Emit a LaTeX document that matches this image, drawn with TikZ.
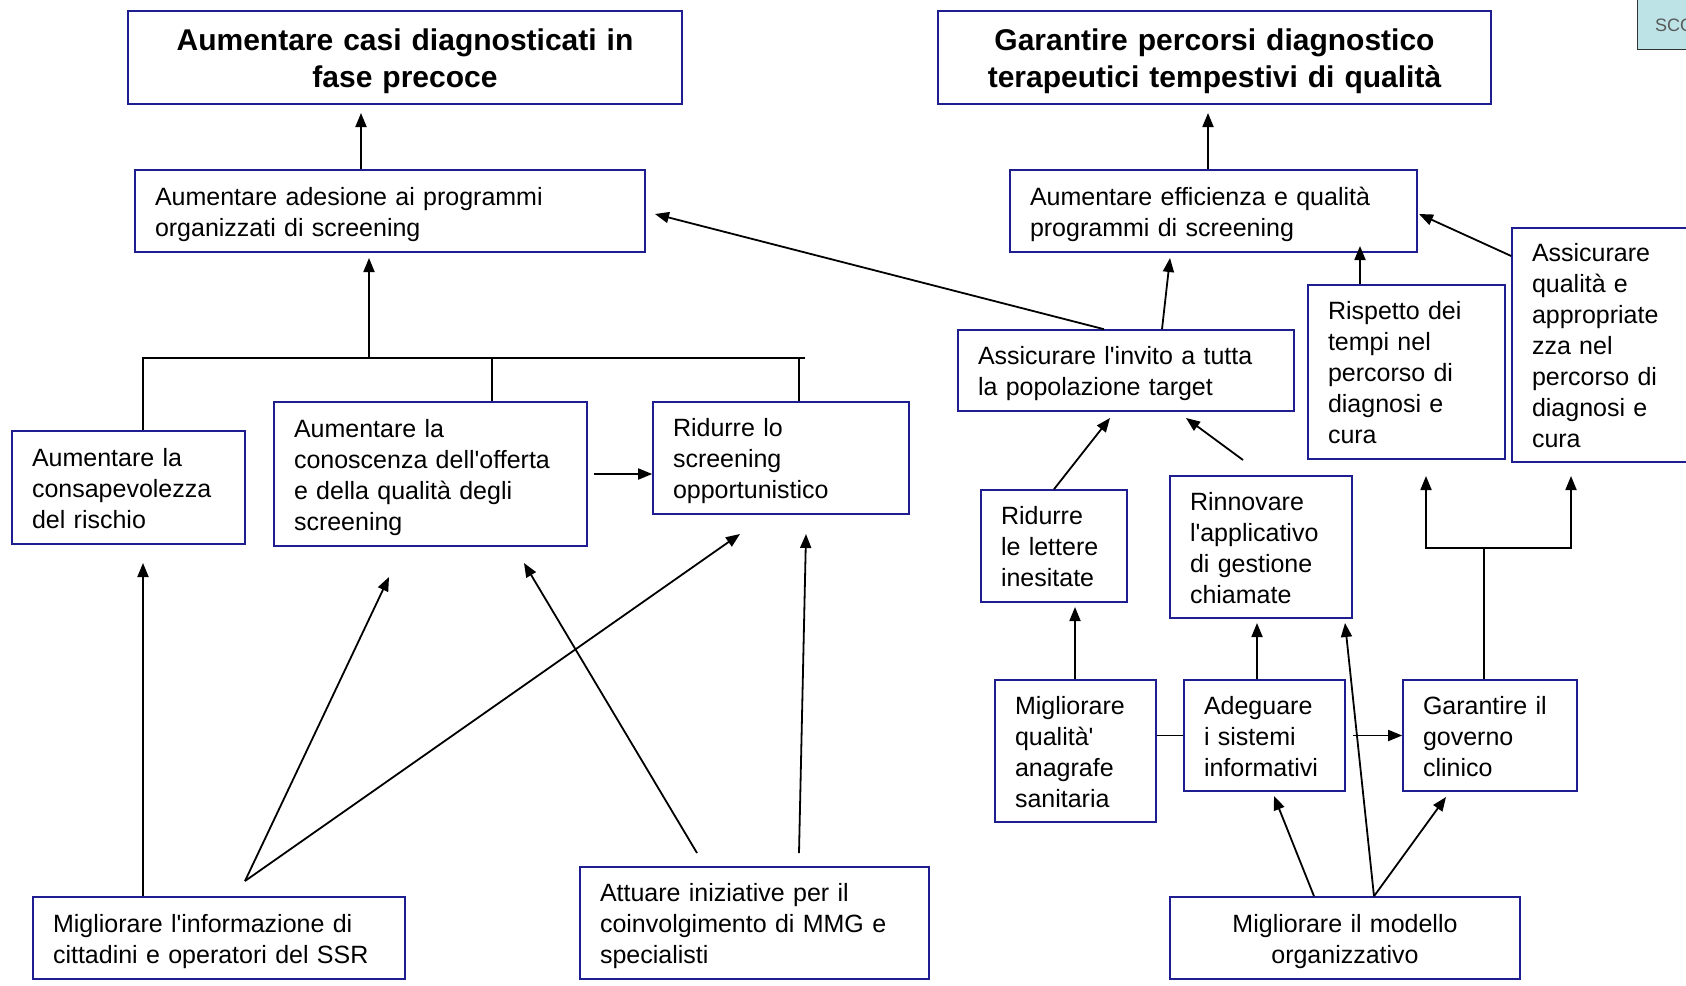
\documentclass[tikz,border=0pt]{standalone}
\usepackage{fontspec}
\setmainfont{Liberation Sans}
\usetikzlibrary{arrows.meta}
\definecolor{boxblue}{HTML}{1E1E90}
\definecolor{scofill}{HTML}{BDE3E6}
\begin{document}
\begin{tikzpicture}[x=1pt,y=-1pt,
  box/.style={draw=boxblue, line width=1.6pt, inner xsep=20pt, inner ysep=0pt,
    font=\fontsize{25}{31}\selectfont, align=left,
    execute at begin node={\rule{0pt}{26pt}},
    execute at end node={\rule[-7pt]{0pt}{7pt}}},
  titlebox/.style={draw=boxblue, line width=1.6pt, inner xsep=10pt, inner ysep=0pt,
    font=\fontsize{30}{37.6}\selectfont\bfseries, align=center,
    execute at begin node={\rule{0pt}{30.3pt}},
    execute at end node={\rule[-7pt]{0pt}{7pt}}},
  conn/.style={line width=1.8pt, black},
  arr/.style={conn, -{Triangle[length=14pt,width=11pt]}},
  darr/.style={conn, {Triangle[length=14pt,width=11pt]}-{Triangle[length=14pt,width=11pt]}}]
\useasboundingbox (0,0) rectangle (1686,985);
\clip (0,0) rectangle (1686,985);
\fill[white] (0,0) rectangle (1686,985);

% SCO box (cut by the page edge)
\node[draw=black!80, line width=1.4pt, fill=scofill, minimum width=90pt, minimum height=60pt,
  anchor=south west, inner sep=0pt] (sco) at (1637,50) {};
\node[anchor=west, text=black!65, font=\fontsize{18}{20}\selectfont, inner sep=0pt] (scot) at (1655,25) {SCO};

% titles
\node[titlebox, minimum width=554pt, minimum height=93pt, text width=534pt] (t1) at (405,57.5)
  {Aumentare casi diagnosticati in\\fase precoce};
\node[titlebox, minimum width=553pt, minimum height=93pt, text width=533pt] (t2) at (1214.5,57.5)
  {Garantire percorsi diagnostico\\terapeutici tempestivi di qualità};

% boxes
\node[box, minimum height=82pt, text width=470pt] (n4) at (390,211)
  {Aumentare adesione ai programmi\\organizzati di screening};
\node[box, minimum height=82pt, text width=367pt] (n5) at (1213.5,211)
  {Aumentare efficienza e qualità\\programmi di screening};
\node[box, minimum height=113pt, text width=193pt] (n6) at (128.5,487.5)
  {Aumentare la\\consapevolezza\\del rischio};
\node[box, minimum height=144pt, text width=273pt] (n7) at (430.5,474)
  {Aumentare la\\conoscenza dell\textquotesingle offerta\\e della qualità degli\\screening};
\node[box, minimum height=112pt, text width=216pt] (n8) at (781,458)
  {Ridurre lo\\screening\\opportunistico};
\node[box, minimum height=81pt, text width=296pt] (n9) at (1126,370.5)
  {Assicurare l\textquotesingle invito a tutta\\la popolazione target};
\node[box, minimum height=174pt, text width=157pt] (n10) at (1406.5,372)
  {Rispetto dei\\tempi nel\\percorso di\\diagnosi e\\cura};
\node[box, minimum height=234pt, text width=148pt] (n11) at (1606,345)
  {Assicurare\\qualità e\\appropriate\\zza nel\\percorso di\\diagnosi e\\cura};
\node[box, minimum height=112pt, text width=106pt] (n12) at (1054,546)
  {Ridurre\\le lettere\\inesitate};
\node[box, minimum height=142pt, text width=142pt] (n13) at (1261,547)
  {Rinnovare\\l\textquotesingle applicativo\\di gestione\\chiamate};
\node[box, minimum height=142pt, text width=121pt] (n14) at (1075.5,751)
  {Migliorare\\qualità\textquotesingle\\anagrafe\\sanitaria};
\node[box, minimum height=111pt, text width=121pt] (n15) at (1264.5,735.5)
  {Adeguare\\i sistemi\\informativi};
\node[box, minimum height=111pt, text width=134pt] (n16) at (1490,735.5)
  {Garantire il\\governo\\clinico};
\node[box, minimum height=82pt, text width=332pt] (n17) at (219,938)
  {Migliorare l\textquotesingle informazione di\\cittadini e operatori del SSR};
\node[box, minimum height=112pt, text width=309pt] (n18) at (754.5,923)
  {Attuare iniziative per il\\coinvolgimento di MMG e\\specialisti};
\node[box, align=center, minimum height=82pt, text width=310pt] (n19) at (1345,938)
  {Migliorare il modello\\organizzativo};

% coordinates for free ends
\coordinate (a1) at (361,113);
\coordinate (a2) at (1208,113);
\coordinate (tL) at (143,358);
\coordinate (tR) at (805,358);
\coordinate (t7) at (492,358);
\coordinate (t8) at (799,358);
\coordinate (a4) at (369,258);
\coordinate (s78) at (594,474);
\coordinate (a94) at (655,214);
\coordinate (a95) at (1170,258);
\coordinate (a105) at (1360,246);
\coordinate (a115) at (1419,214);
\coordinate (a129) at (1110,418);
\coordinate (s139) at (1243,460);
\coordinate (a139) at (1186,418);
\coordinate (a1412) at (1075,607);
\coordinate (a1513) at (1257,623);
\coordinate (b16) at (1484,548);
\coordinate (bL) at (1426,548);
\coordinate (bR) at (1571,548);
\coordinate (aL) at (1426,476);
\coordinate (aR) at (1571,476);
\coordinate (a1915) at (1274,796);
\coordinate (a1913) at (1345,623);
\coordinate (a1916) at (1446,797);
\coordinate (a176) at (143,563);
\coordinate (s17) at (245,881);
\coordinate (a177) at (389,577);
\coordinate (a178) at (740,534);
\coordinate (s187) at (697,853);
\coordinate (a187) at (524,563);
\coordinate (s188) at (799,853);
\coordinate (a188) at (806,534);

% connectors
\draw[arr] (n4.north -| a1) -- (a1);
\draw[arr] (n5.north -| a2) -- (a2);
\draw[conn] (n6.north -| tL) -- (tL) -- (tR);
\draw[conn] (n7.north -| t7) -- (t7);
\draw[conn] (n8.north -| t8) -- (t8);
\draw[arr] (tL -| a4) -- (a4);
\draw[arr] (s78) -- (n8.west |- s78);
\draw[arr] ([xshift=-22pt]n9.north) -- (a94);
\draw[arr] ([xshift=36pt]n9.north) -- (a95);
\draw[arr] (n10.north -| a105) -- (a105);
\draw[arr] ([yshift=89pt]n11.west) -- (a115);
\draw[arr] (n12.north) -- (a129);
\draw[arr] (s139) -- (a139);
\draw[arr] (n14.north -| a1412) -- (a1412);
\draw[arr] (n15.north -| a1513) -- (a1513);
\draw[conn] (n15.west) -- (n15.west -| n14.east);
\draw[arr] ([xshift=7pt]n15.east) -- (n16.west);
\draw[conn] (n16.north -| b16) -- (b16);
\draw[darr] (aL) -- (bL) -- (bR) -- (aR);
\draw[arr] ([xshift=-31pt]n19.north) -- (a1915);
\draw[arr] ([xshift=29pt]n19.north) -- (a1913);
\draw[arr] ([xshift=29pt]n19.north) -- (a1916);
\draw[arr] (n17.north -| a176) -- (a176);
\draw[arr] (s17) -- (a177);
\draw[arr] (s17) -- (a178);
\draw[arr] (s187) -- (a187);
\draw[arr] (s188) -- (a188);
\end{tikzpicture}
\end{document}
